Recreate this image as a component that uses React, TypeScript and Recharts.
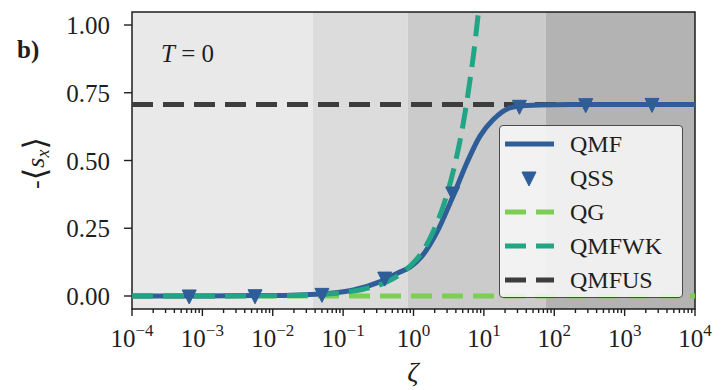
import {
  ComposedChart,
  Legend,
  Line,
  ReferenceArea,
  XAxis,
  YAxis,
} from 'recharts'

const SERIF = '"Liberation Serif", "DejaVu Serif", serif'
const INK = '#1e1e1e'

// ζ samples and -<s_x> values for each method
const qmfZeta = [1e-4, 1e-3, 0.01, 0.03, 0.07, 0.14, 0.33, 0.6, 0.9, 1.3, 2.1, 3.67, 5.7, 8.8, 13.5, 23.4, 40, 100, 1000, 1e4]
const qmfSx = [0, 0.0003, 0.002, 0.005, 0.011, 0.022, 0.052, 0.085, 0.107, 0.145, 0.23, 0.37, 0.49, 0.59, 0.65, 0.694, 0.703, 0.706, 0.707, 0.707]

const qssZeta = [6.5e-4, 5.6e-3, 0.05, 0.39, 3.6, 32, 280, 2450]
const qssSx = [0, 0.001, 0.006, 0.066, 0.38, 0.7, 0.706, 0.707]

const qgZeta = [1e-4, 1e4]
const qgSx = [0, 0]

const wkZeta = [1e-4, 1e-3, 0.01, 0.03, 0.1, 0.2, 0.4, 0.7, 1, 1.35, 2, 2.95, 4.07, 5.08, 6.3, 7.2, 8.3, 9.5]
const wkSx = [0, 0.0001, 0.0013, 0.004, 0.013, 0.026, 0.05, 0.087, 0.123, 0.165, 0.25, 0.37, 0.51, 0.635, 0.79, 0.9, 1.04, 1.19]

const usZeta = [1e-4, 1e4]
const usSx = [0.707, 0.707]

// shaded regimes along ζ
const bandEdges = [1e-4, 0.037, 0.83, 76, 1e4]
const bandFills = ['#e9e9e9', '#dcdcdc', '#cbcbcb', '#b3b3b3']

const yTicks = [0, 0.25, 0.5, 0.75, 1]
const decades = [-4, -3, -2, -1, 0, 1, 2, 3, 4]
const minorSteps = [2, 3, 4, 5, 6, 7, 8, 9]

const xTicks: number[] = []
decades.forEach((d) => {
  xTicks.push(Math.pow(10, d))
  if (d < 4) minorSteps.forEach((m) => xTicks.push(m * Math.pow(10, d)))
})

const pairs = (xs: number[], ys: number[]) => xs.map((x, i) => ({ x, y: ys[i] }))

const BLUE = '#2e5d98'
const LIGHT_GREEN = '#7ccf52'
const TEAL = '#21a585'
const DARK = '#3d3d3d'
const DASH = '21 10'

const legendRows = [
  { name: 'QMF', color: BLUE, kind: 'solid' },
  { name: 'QSS', color: BLUE, kind: 'marker' },
  { name: 'QG', color: LIGHT_GREEN, kind: 'dash' },
  { name: 'QMFWK', color: TEAL, kind: 'dash' },
  { name: 'QMFUS', color: DARK, kind: 'dash' },
]

function Triangle({ cx, cy }: any) {
  if (cx == null || cy == null) return null
  return (
    <path
      d={`M${cx - 7},${cy - 6} L${cx + 7},${cy - 6} L${cx},${cy + 8} Z`}
      fill={BLUE}
      stroke={BLUE}
      strokeWidth={1}
    />
  )
}

function XTick({ x, y, payload }: any) {
  const v = payload.value as number
  const e = Math.round(Math.log10(v))
  const major = Math.abs(Math.log10(v) - e) < 1e-6
  return (
    <g>
      <line x1={x} x2={x} y1={y} y2={y + (major ? 7 : 4)} stroke={INK} strokeWidth={1.4} />
      {major && (
        <text x={x} y={y + 38} textAnchor="middle" fontFamily={SERIF} fontSize={25} fill={INK}>
          <tspan>10</tspan>
          <tspan dy={-11} fontSize={17}>{e < 0 ? `\u2212${-e}` : `${e}`}</tspan>
        </text>
      )}
    </g>
  )
}

function YTick({ x, y, payload }: any) {
  return (
    <g>
      <line x1={x - 8} x2={x} y1={y} y2={y} stroke={INK} strokeWidth={1.4} />
      <text x={x - 22} y={y + 9} textAnchor="end" fontFamily={SERIF} fontSize={25} fill={INK}>
        {(payload.value as number).toFixed(2)}
      </text>
    </g>
  )
}

function LegendBox() {
  return (
    <div
      style={{
        boxSizing: 'border-box',
        width: 184,
        height: 173,
        paddingTop: 1,
        background: 'rgba(247,247,247,0.88)',
        border: '1px solid #4a4a4a',
        borderRadius: 4,
        fontFamily: SERIF,
        fontSize: 24,
        color: INK,
      }}
    >
      {legendRows.map((r) => (
        <div key={r.name} style={{ display: 'flex', alignItems: 'center', height: 34 }}>
          <svg width={70} height={34} style={{ flex: 'none' }}>
            {r.kind === 'marker' ? (
              <Triangle cx={29} cy={17} />
            ) : (
              <line
                x1={5}
                x2={54}
                y1={17}
                y2={17}
                stroke={r.color}
                strokeWidth={5}
                strokeDasharray={r.kind === 'dash' ? DASH : undefined}
              />
            )}
          </svg>
          <span style={{ lineHeight: '34px' }}>{r.name}</span>
        </div>
      ))}
    </div>
  )
}

export default function App() {
  return (
    <div style={{ position: 'absolute', left: 0, top: 0, width: 725, height: 390, background: '#fff' }}>
      <ComposedChart width={725} height={390} margin={{ top: 12, right: 30, bottom: 0, left: 0 }}>
        <XAxis
          dataKey="x"
          type="number"
          scale="log"
          domain={[1e-4, 1e4]}
          ticks={xTicks}
          interval={0}
          allowDataOverflow
          height={81}
          tickSize={0}
          tickMargin={0}
          axisLine={false}
          tickLine={false}
          tick={<XTick />}
        />
        <YAxis
          type="number"
          domain={[-0.048, 1.048]}
          ticks={yTicks}
          allowDataOverflow
          width={132}
          tickSize={0}
          tickMargin={0}
          axisLine={false}
          tickLine={false}
          tick={<YTick />}
        />
        {bandFills.map((fill, i) => (
          <ReferenceArea
            key={fill}
            x1={bandEdges[i]}
            x2={bandEdges[i + 1]}
            y1={-0.048}
            y2={1.048}
            fill={fill}
            fillOpacity={1}
            stroke="none"
          />
        ))}
        <Line data={pairs(qgZeta, qgSx)} dataKey="y" name="QG" stroke={LIGHT_GREEN} strokeWidth={5}
          strokeDasharray={DASH} dot={false} activeDot={false} isAnimationActive={false} />
        <Line data={pairs(usZeta, usSx)} dataKey="y" name="QMFUS" stroke={DARK} strokeWidth={5}
          strokeDasharray={DASH} dot={false} activeDot={false} isAnimationActive={false} />
        <Line data={pairs(qmfZeta, qmfSx)} dataKey="y" name="QMF" type="monotone" stroke={BLUE}
          strokeWidth={5} dot={false} activeDot={false} isAnimationActive={false} />
        <Line data={pairs(wkZeta, wkSx)} dataKey="y" name="QMFWK" type="monotone" stroke={TEAL}
          strokeWidth={5} strokeDasharray={DASH} dot={false} activeDot={false} isAnimationActive={false} />
        <Line data={pairs(qssZeta, qssSx)} dataKey="y" name="QSS" stroke="none" dot={<Triangle />}
          activeDot={false} isAnimationActive={false} />
        <ReferenceArea x1={1e-4} x2={1e4} y1={-0.048} y2={1.048} fill="none" stroke={INK} strokeWidth={1.5} />
        <Legend
          layout="vertical"
          align="center"
          verticalAlign="middle"
          content={<LegendBox />}
          wrapperStyle={{ position: 'absolute', left: 499, top: 125, width: 184, height: 173 }}
        />
      </ComposedChart>
      <svg
        width={725}
        height={390}
        style={{ position: 'absolute', left: 0, top: 0, pointerEvents: 'none' }}
        fontFamily={SERIF}
        fill={INK}
      >
        <text x={17} y={58} fontSize={25} fontWeight="bold">b)</text>
        <text x={161} y={62} fontSize={25}>
          <tspan fontStyle="italic">T</tspan>
          <tspan> = 0</tspan>
        </text>
        <text x={44} y={163} fontSize={26} textAnchor="middle" transform="rotate(-90, 44, 163)">
          <tspan>-</tspan>
          <tspan fontSize={32} dy={2}>⟨</tspan>
          <tspan fontStyle="italic" dy={-2}>s</tspan>
          <tspan fontStyle="italic" fontSize={18} dy={5}>x</tspan>
          <tspan fontSize={32} dy={-3}>⟩</tspan>
        </text>
        <text x={413} y={381} fontSize={28} fontStyle="italic" textAnchor="middle">ζ</text>
      </svg>
    </div>
  )
}
